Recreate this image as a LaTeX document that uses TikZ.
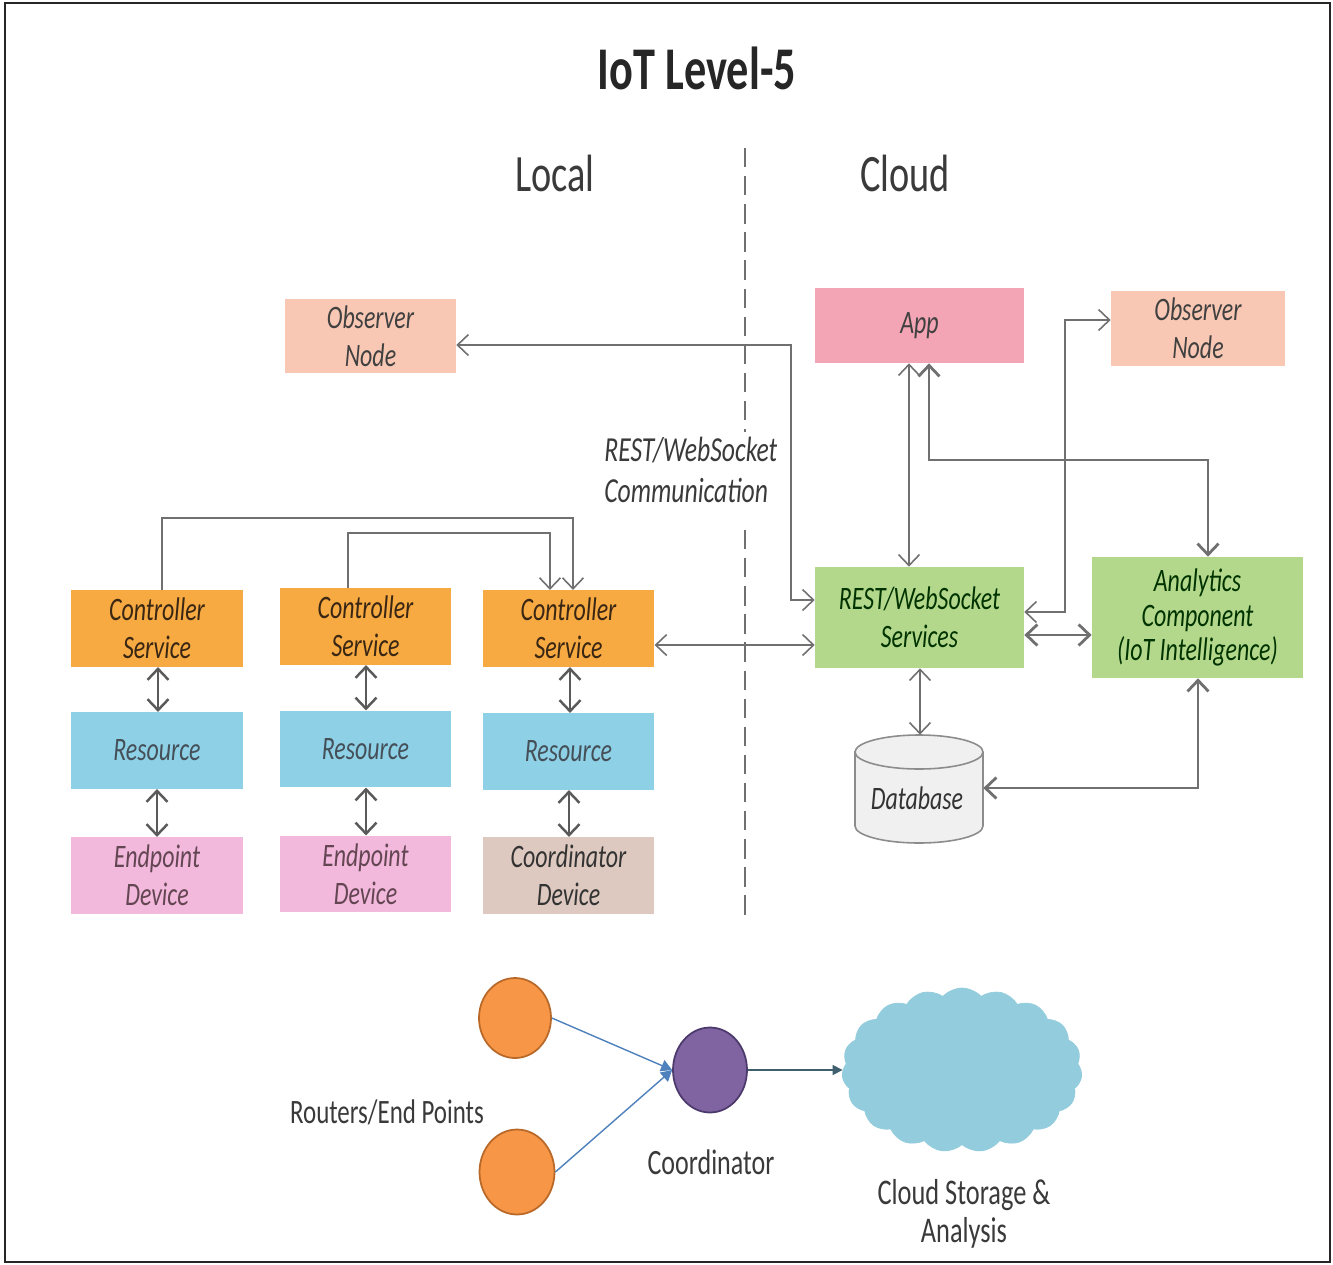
\documentclass[tikz,border=0pt]{standalone}
\usepackage{fontspec}
\setmainfont{Carlito}
\usetikzlibrary{arrows.meta,shapes.geometric,shapes.symbols}

% tall, narrow lettering
\newcommand\vs[1]{\scalebox{1}[1.37]{#1}}

\definecolor{peach}{HTML}{F9C8B4}
\definecolor{apppink}{HTML}{F3A5B5}
\definecolor{orangebox}{HTML}{F7AA42}
\definecolor{bluebox}{HTML}{8ED0E6}
\definecolor{pinkbox}{HTML}{F2B9DC}
\definecolor{tanbox}{HTML}{DDC9BF}
\definecolor{greenbox}{HTML}{B4D88B}
\definecolor{linegray}{HTML}{707070}
\definecolor{darkline}{HTML}{5A5A5A}
\definecolor{labelgray}{HTML}{3A3A3A}
\definecolor{nodeorange}{HTML}{F79646}
\definecolor{nodeorangeb}{HTML}{B8692A}
\definecolor{nodepurple}{HTML}{8064A2}
\definecolor{nodepurpleb}{HTML}{4B3A6B}
\definecolor{cloudblue}{HTML}{93CDDD}
\definecolor{linkblue}{HTML}{4F81BD}
\definecolor{linkslate}{HTML}{3F5F6F}

\begin{document}
\begin{tikzpicture}[x=0.02cm,y=-0.02cm,
  >={Straight Barb[length=2.2mm,width=4.2mm]},
  box/.style={inner sep=0pt, align=center,
    font=\fontsize{13.6}{21.5}\selectfont\itshape},
  lbox/.style={box, minimum width=3.43cm, minimum height=1.53cm},
  ln/.style={draw=linegray, line width=0.9pt},
  thk/.style={draw=linegray, line width=1.6pt},
  stub/.style={draw=darkline, line width=1.4pt},
  lbl/.style={text=labelgray, inner sep=0pt, align=center},
  disc/.style={ellipse, inner sep=0pt, line width=1pt},
]
\useasboundingbox (0,0) rectangle (1333,1265);
\fill[white] (0,0) rectangle (1333,1265);
\draw[line width=1.6pt, draw=black!85] (5,3) rectangle (1330,1262);

% headings
\node[lbl, text=black!85, font=\fontsize{25.2}{30}\selectfont\bfseries] (title) at (697,68) {\vs{IoT Level-5}};
\node[lbl, font=\fontsize{21.8}{26}\selectfont] (local) at (555,173) {\vs{Local}};
\node[lbl, font=\fontsize{21.8}{26}\selectfont] (cloudhd) at (905,173) {\vs{Cloud}};

% local / cloud divider
\draw[draw=linegray, line width=1.1pt, dash pattern=on 11pt off 5pt] (745,148) -- (745,432);
\draw[draw=linegray, line width=1.1pt, dash pattern=on 11pt off 5pt] (745,530) -- (745,917);

% cloud side
\node[box, fill=peach, text=black!75, minimum width=3.42cm, minimum height=1.5cm] (obsL) at (370.5,336) {\vs{Observer}\\\vs{Node}};
\node[box, fill=apppink, text=black!75, minimum width=4.18cm, minimum height=1.5cm] (app) at (919.5,325.5) {\vs{App}};
\node[box, fill=peach, text=black!75, minimum width=3.48cm, minimum height=1.5cm] (obsR) at (1198,328.5) {\vs{Observer}\\\vs{Node}};
\node[box, fill=greenbox, text=black!80!green, minimum width=4.18cm, minimum height=2.02cm] (rest) at (919.5,617.5) {\vs{REST/WebSocket}\\\vs{Services}};
\node[box, fill=greenbox, text=black!80!green, minimum width=4.22cm, minimum height=2.42cm, font=\fontsize{13.6}{19.5}\selectfont\itshape] (ana) at (1197.5,617.5) {\vs{Analytics}\\\vs{Component}\\\vs{(IoT Intelligence)}};

% database cylinder
\node[minimum width=2.56cm, minimum height=2.16cm, inner sep=0pt] (db) at (919,789) {};
\filldraw[fill=black!6, draw=black!45, line width=0.9pt]
  (855,752) -- (855,826) arc[start angle=180, end angle=360, x radius=1.28cm, y radius=0.34cm]
  -- (983,752) arc[start angle=0, end angle=180, x radius=1.28cm, y radius=0.34cm] -- cycle;
\draw[draw=black!45, line width=0.9pt] (855,752) arc[start angle=180, end angle=360, x radius=1.28cm, y radius=0.34cm];
\node[box, text=black!80] (dbtext) at (917,798) {\vs{Database}};

% local side
\node[lbox, fill=orangebox, text=black!70!brown] (cs1) at (157,628.5) {\vs{Controller}\\\vs{Service}};
\node[lbox, fill=orangebox, text=black!70!brown] (cs2) at (365.5,626.5) {\vs{Controller}\\\vs{Service}};
\node[lbox, fill=orangebox, text=black!70!brown] (cs3) at (568.5,628.5) {\vs{Controller}\\\vs{Service}};
\node[lbox, fill=bluebox, text=black!75!cyan] (res1) at (157,750.5) {\vs{Resource}};
\node[lbox, fill=bluebox, text=black!75!cyan] (res2) at (365.5,749) {\vs{Resource}};
\node[lbox, fill=bluebox, text=black!75!cyan] (res3) at (568.5,751.5) {\vs{Resource}};
\node[lbox, fill=pinkbox, text=black!70!magenta] (ep1) at (157,875.5) {\vs{Endpoint}\\\vs{Device}};
\node[lbox, fill=pinkbox, text=black!70!magenta] (ep2) at (365.5,874) {\vs{Endpoint}\\\vs{Device}};
\node[lbox, fill=tanbox, text=black!80] (cd) at (568.5,875.5) {\vs{Coordinator}\\\vs{Device}};

\node[lbl, anchor=west, align=left, font=\fontsize{14.6}{23.8}\selectfont\itshape] (comm) at (604,470) {\vs{REST/WebSocket}\\\vs{Communication}};

% connectors
\draw[ln,<->] ([yshift=-0.18cm]obsL.east) -| (791,600) -- (rest.west |- 0,600);
\draw[ln,<->] (cs3.east |- 0,645) -- (rest.west |- 0,645);
\draw[ln,<->] (app.south -| 909,0) -- (rest.north -| 909,0);
\draw[thk,<->] (app.south -| 929,0) -- (929,460) -| (ana.north -| 1208,0);
\draw[ln,<->] (rest.east |- 0,612) -| (1065,320) -- (obsR.west |- 0,320);
\draw[thk,<->] (rest.east |- 0,635) -- (ana.west |- 0,635);
\draw[ln,<->] (rest.south -| 920,0) -- (db.north -| 920,0);
\draw[thk,<->] (ana.south -| 1198,0) |- (db.east |- 0,788);
\draw[ln,->] (cs1.north -| 162,0) -- (162,518) -| (cs3.north -| 573,0);
\draw[ln,->] (cs2.north -| 348,0) -- (348,533) -| (cs3.north -| 550,0);

\draw[stub,<->] (cs1.south -| 158,0) -- (res1.north -| 158,0);
\draw[stub,<->] (cs2.south -| 366,0) -- (res2.north -| 366,0);
\draw[stub,<->] (cs3.south -| 570,0) -- (res3.north -| 570,0);
\draw[stub,<->] (res1.south -| 157,0) -- (ep1.north -| 157,0);
\draw[stub,<->] (res2.south -| 366,0) -- (ep2.north -| 366,0);
\draw[stub,<->] (res3.south -| 569,0) -- (cd.north -| 569,0);

% sensor network sketch
\node[disc, fill=nodeorange, draw=nodeorangeb, minimum width=1.44cm, minimum height=1.6cm] (r1) at (515,1018) {};
\node[disc, fill=nodeorange, draw=nodeorangeb, minimum width=1.5cm, minimum height=1.7cm] (r2) at (517,1172) {};
\node[disc, fill=nodepurple, draw=nodepurpleb, minimum width=1.48cm, minimum height=1.7cm] (co) at (710,1070) {};
\node[cloud, cloud puffs=19, cloud puff arc=95, aspect=1.46, fill=cloudblue, draw=cloudblue,
  minimum width=4.8cm, minimum height=3.28cm, inner sep=0pt] (cl) at (962,1070) {};

\draw[draw=linkblue, line width=0.8pt, -{Triangle[length=2.2mm,width=2.4mm]}] (r1.east) -- (co.west);
\draw[draw=linkblue, line width=0.8pt, -{Triangle[length=2.2mm,width=2.4mm]}] (r2.east) -- (co.west);
\draw[draw=linkslate, line width=0.9pt, -{Triangle[length=2mm,width=2mm]}] (co.east) -- (cl.west);

\node[lbl, font=\fontsize{14.2}{20}\selectfont] (rtr) at (387,1112) {\vs{Routers/End Points}};
\node[lbl, font=\fontsize{14.8}{20}\selectfont] (cotext) at (711,1162) {\vs{Coordinator}};
\node[lbl, font=\fontsize{15}{21.5}\selectfont] (cltext) at (964,1214) {\vs{Cloud Storage \&}\\\vs{Analysis}};
\end{tikzpicture}
\end{document}
